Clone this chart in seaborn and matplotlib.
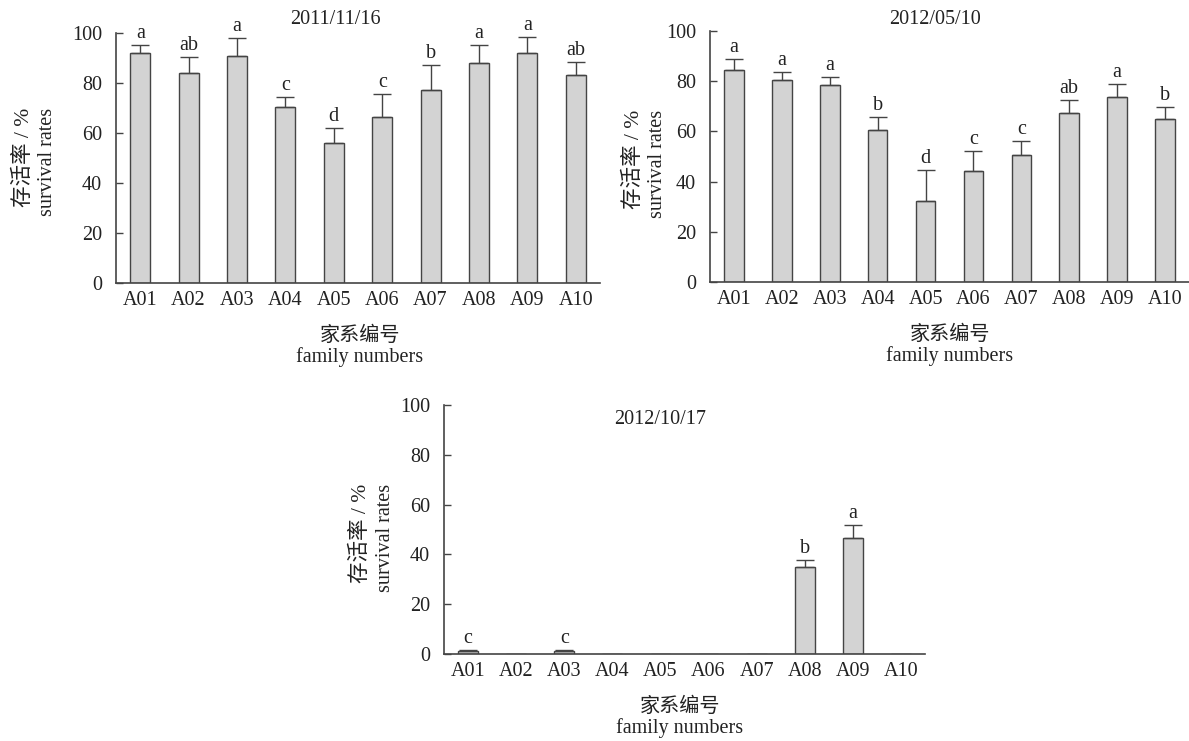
import matplotlib
matplotlib.use("Agg")
import matplotlib.pyplot as plt
import seaborn as sns
import pandas as pd
import numpy as np

families = ["A01", "A02", "A03", "A04", "A05", "A06", "A07", "A08", "A09", "A10"]

titles = ["2011/11/16", "2012/05/10", "2012/10/17"]

mean_2011_11_16 = [92.0, 83.9, 90.8, 70.5, 56.0, 66.4, 77.2, 88.1, 91.9, 83.3]
err_2011_11_16 = [3.1, 6.5, 7.1, 3.8, 6.0, 9.3, 9.8, 7.1, 6.4, 5.0]
letters_2011_11_16 = ["a", "ab", "a", "c", "d", "c", "b", "a", "a", "ab"]

mean_2012_05_10 = [84.5, 80.6, 78.6, 60.6, 32.3, 44.1, 50.6, 67.5, 73.7, 65.1]
err_2012_05_10 = [4.5, 3.2, 2.9, 5.1, 12.5, 8.1, 5.6, 5.1, 5.2, 4.6]
letters_2012_05_10 = ["a", "a", "a", "b", "d", "c", "c", "ab", "a", "b"]

mean_2012_10_17 = [1.2, 0, 1.3, 0, 0, 0, 0, 34.8, 46.7, 0]
err_2012_10_17 = [0.3, 0, 0.3, 0, 0, 0, 0, 2.9, 5.3, 0]
letters_2012_10_17 = ["c", "", "c", "", "", "", "", "b", "a", ""]

yticks = [0, 20, 40, 60, 80, 100]
ylabel_cn = "存活率 / %"
ylabel_en = "survival rates"
xlabel_text = "家系编号\nfamily numbers"

sns.set_theme(style="white")
plt.rcParams["font.family"] = ["Liberation Serif", "Noto Sans CJK SC", "DejaVu Sans"]
plt.rcParams["axes.unicode_minus"] = False

W, H = 1189, 741
fig = plt.figure(figsize=(W / 100, H / 100), dpi=100)
fig.patch.set_facecolor("white")

FS = 14.5
TXT = "#222222"
EDGE = "#444444"
FILL = "#d3d3d3"


def px_axes(left, right, top, bottom):
    return fig.add_axes([left / W, 1 - bottom / H, (right - left) / W, (bottom - top) / H])


panels = [
    dict(box=(116, 600, 33, 283), means=mean_2011_11_16, errs=err_2011_11_16,
         letters=letters_2011_11_16, title=titles[0], tpos=(335, 19),
         ylab=(24, 47, 108), xlab=(360, 347)),
    dict(box=(710, 1189, 31, 282), means=mean_2012_05_10, errs=err_2012_05_10,
         letters=letters_2012_05_10, title=titles[1], tpos=(935, 20),
         ylab=(634, 658, 110), xlab=(950, 346)),
    dict(box=(444, 925, 405, 654), means=mean_2012_10_17, errs=err_2012_10_17,
         letters=letters_2012_10_17, title=titles[2], tpos=(660, 420),
         ylab=(361, 385, 484), xlab=(680, 718)),
]

for p in panels:
    ax = px_axes(*p["box"])
    df = pd.DataFrame({"family": families, "rate": p["means"], "err": p["errs"]})
    sns.barplot(data=df, x="family", y="rate", ax=ax, color=FILL, width=0.41,
                edgecolor=EDGE, linewidth=1.0, errorbar=None, saturation=1)
    xs = np.arange(len(families))
    means = np.array(p["means"])
    errs = np.array(p["errs"])
    mask = errs > 0
    ax.errorbar(xs[mask], means[mask], yerr=[np.zeros(mask.sum()), errs[mask]],
                fmt="none", ecolor=EDGE, elinewidth=1.0, capsize=6.5, capthick=1.0)
    for x, m, e, lt in zip(xs, means, errs, p["letters"]):
        if lt:
            ax.text(x, m + e + 0.8, lt, ha="center", va="bottom", fontsize=FS, color=TXT)

    ax.set_xlim(-0.5, len(families) - 0.5)
    ax.set_ylim(0, 100)
    ax.set_yticks(yticks)
    ax.set_yticklabels([str(v) for v in yticks], fontsize=FS, color=TXT)
    ax.set_xticks(xs)
    ax.set_xticklabels(families, fontsize=FS, color=TXT)
    ax.set_xticks(np.arange(0.5, len(families) - 0.4, 1.0), minor=True)
    ax.tick_params(axis="x", which="major", length=0, pad=6)
    ax.tick_params(axis="x", which="minor", direction="in", length=5, width=1.0, color=EDGE)
    ax.tick_params(axis="y", which="major", direction="in", length=5, width=1.0,
                   color=EDGE, pad=10, left=True)
    ax.set_xlabel("")
    ax.set_ylabel("")
    for s in ["top", "right"]:
        ax.spines[s].set_visible(False)
    for s in ["left", "bottom"]:
        ax.spines[s].set_color(EDGE)
        ax.spines[s].set_linewidth(1.2)
    ax.set_facecolor("white")

    tx, ty = p["tpos"]
    fig.text(tx / W, 1 - ty / H, p["title"], ha="center", va="center", fontsize=FS, color=TXT)
    cx, ex, top = p["ylab"]
    fig.text(cx / W, 1 - top / H, ylabel_cn, rotation=90, ha="center", va="top",
             fontsize=15.5, color=TXT)
    fig.text(ex / W, 1 - top / H, ylabel_en, rotation=90, ha="center", va="top",
             fontsize=FS, color=TXT)
    xx, xy = p["xlab"]
    fig.text(xx / W, 1 - xy / H, xlabel_text, ha="center", va="center",
             fontsize=FS, color=TXT, linespacing=1.05, multialignment="center")

fig.savefig("out.png", dpi=100, facecolor="white")
